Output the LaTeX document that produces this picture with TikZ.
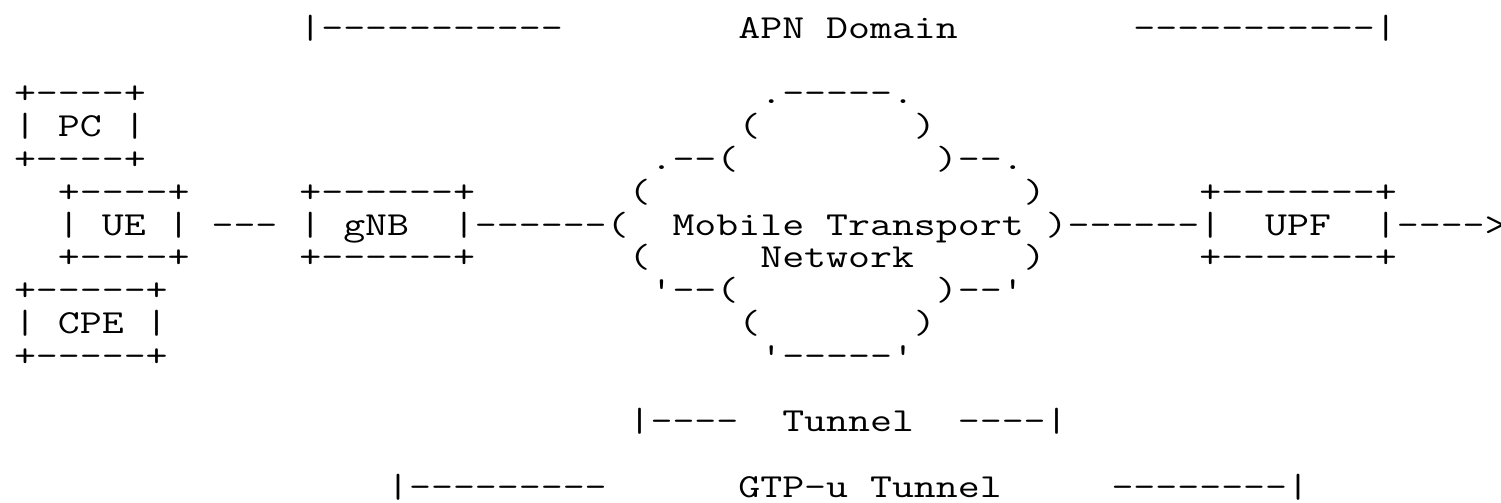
\documentclass[tikz,border=0pt]{standalone}
\usepackage{graphicx}
\newlength\ascw
\newcommand\ascfont{\ttfamily\fontsize{16.8pt}{16.8pt}\selectfont}
\begin{document}
\settowidth\ascw{\ascfont M}%
\pgfmathsetmacro\ascs{10.975/\ascw}%
\begin{tikzpicture}
\newcommand\A[1]{\scalebox{\ascs}[1]{#1}}
\tikzset{asc/.style={anchor=base west, inner sep=0pt, outer sep=0pt, font=\ascfont}}
\fill[white] (0,0) rectangle (750.5pt,-251.5pt);
\useasboundingbox (0,0) rectangle (750.5pt,-251.5pt);
\begin{scope}[shift={(7.01pt,-19.15pt)}, x=10.975pt, y=-16.4pt]
% row 0
\node[asc] (apnL) at (13,0) {\A{|-----------}};
\node[asc] (apnT) at (33,0) {\A{APN~Domain}};
\node[asc] (apnR) at (51,0) {\A{-----------|}};
% PC
\node[asc] (pcTop) at (0,2) {\A{+----+}};
\node[asc] (pcMid) at (0,3) {\A{|~PC~|}};
\node[asc] (pcBot) at (0,4) {\A{+----+}};
% UE
\node[asc] (ueTop) at (2,5) {\A{+----+}};
\node[asc] (ueMid) at (2,6) {\A{|~UE~|}};
\node[asc] (ueBot) at (2,7) {\A{+----+}};
% CPE
\node[asc] (cpeTop) at (0,8) {\A{+-----+}};
\node[asc] (cpeMid) at (0,9) {\A{|~CPE~|}};
\node[asc] (cpeBot) at (0,10) {\A{+-----+}};
% gNB
\node[asc] (gnbTop) at (13,5) {\A{+------+}};
\node[asc] (gnbMid) at (13,6) {\A{|~gNB~~|}};
\node[asc] (gnbBot) at (13,7) {\A{+------+}};
% UPF
\node[asc] (upfTop) at (54,5) {\A{+-------+}};
\node[asc] (upfMid) at (54,6) {\A{|~~UPF~~|}};
\node[asc] (upfBot) at (54,7) {\A{+-------+}};
% links
\node[asc] (ueGnb) at (9,6) {\A{---}};
\node[asc] (gnbNet) at (21,6) {\A{------}};
\node[asc] (netUpf) at (48,6) {\A{------}};
\node[asc] (upfOut) at (63,6) {\A{---->}};
% cloud
\node[asc] (c2) at (34,2) {\A{.-----.}};
\node[asc] (c3l) at (33,3) {\A{(}};
\node[asc] (c3r) at (41,3) {\A{)}};
\node[asc] (c4l) at (29,4) {\A{.--(}};
\node[asc] (c4r) at (42,4) {\A{)--.}};
\node[asc] (c5l) at (28,5) {\A{(}};
\node[asc] (c5r) at (46,5) {\A{)}};
\node[asc] (c6l) at (27,6) {\A{(}};
\node[asc] (net1) at (30,6) {\A{Mobile~Transport}};
\node[asc] (c6r) at (47,6) {\A{)}};
\node[asc] (c7l) at (28,7) {\A{(}};
\node[asc] (net2) at (34,7) {\A{Network}};
\node[asc] (c7r) at (46,7) {\A{)}};
\node[asc] (c8l) at (29,8) {\A{'--(}};
\node[asc] (c8r) at (42,8) {\A{)--'}};
\node[asc] (c9l) at (33,9) {\A{(}};
\node[asc] (c9r) at (41,9) {\A{)}};
\node[asc] (c10) at (34,10) {\A{'-----'}};
% tunnel
\node[asc] (tunL) at (28,12) {\A{|----}};
\node[asc] (tunT) at (35,12) {\A{Tunnel}};
\node[asc] (tunR) at (43,12) {\A{----|}};
% GTP-u tunnel
\node[asc] (gtpL) at (17,14) {\A{|---------}};
\node[asc] (gtpT) at (33,14) {\A{GTP-u~Tunnel}};
\node[asc] (gtpR) at (50,14) {\A{--------|}};
\end{scope}
\end{tikzpicture}
\end{document}
